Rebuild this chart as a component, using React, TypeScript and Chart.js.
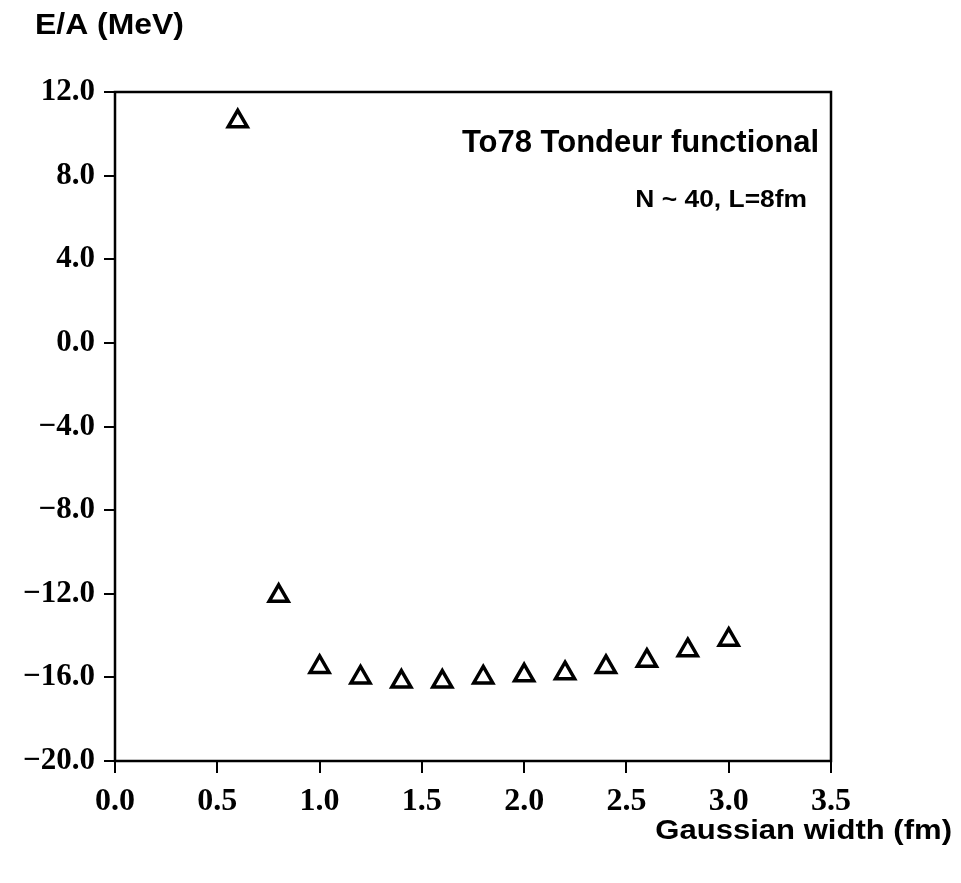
import React, { useEffect, useRef } from "react";
import { Chart, registerables } from "chart.js";

Chart.register(...registerables);

const gaussianWidths = [0.6, 0.8, 1.0, 1.2, 1.4, 1.6, 1.8, 2.0, 2.2, 2.4, 2.6, 2.8, 3.0];
const energiesPerNucleon = [10.6, -12.1, -15.5, -16.0, -16.2, -16.2, -16.0, -15.9, -15.8, -15.5, -15.2, -14.7, -14.2];

const xTickValues = [0.0, 0.5, 1.0, 1.5, 2.0, 2.5, 3.0, 3.5];
const yTickValues = [12.0, 8.0, 4.0, 0.0, -4.0, -8.0, -12.0, -16.0, -20.0];

const yAxisTitle = "E/A (MeV)";
const xAxisTitle = "Gaussian width (fm)";
const functionalLabel = "To78 Tondeur functional";
const parameterLabel = "N ~ 40, L=8fm";

const fmt = (v: number) => (v < 0 ? "\u2212" + Math.abs(v).toFixed(1) : v.toFixed(1));

function drawScaledText(
  ctx: CanvasRenderingContext2D,
  text: string,
  x: number,
  y: number,
  font: string,
  align: CanvasTextAlign,
  sx: number
) {
  ctx.save();
  ctx.font = font;
  ctx.fillStyle = "#000";
  ctx.textBaseline = "middle";
  ctx.textAlign = align;
  ctx.translate(x, y);
  ctx.scale(sx, 1);
  ctx.fillText(text, 0, 0);
  ctx.restore();
}

const framePlugin = {
  id: "framePlugin",
  afterDraw(chart: any) {
    const { ctx, chartArea } = chart;
    ctx.save();
    ctx.strokeStyle = "#000";
    ctx.lineWidth = 2.5;
    ctx.strokeRect(chartArea.left, chartArea.top, chartArea.right - chartArea.left, chartArea.bottom - chartArea.top);
    ctx.restore();
    const sans = "'Liberation Sans', Arial, sans-serif";
    drawScaledText(ctx, yAxisTitle, 35, 26, `bold 29px ${sans}`, "left", 1.1);
    drawScaledText(ctx, xAxisTitle, 952, 832, `bold 27px ${sans}`, "right", 1.15);
    drawScaledText(ctx, functionalLabel, chartArea.right - 12, 143, `bold 31px ${sans}`, "right", 1.0);
    drawScaledText(ctx, parameterLabel, chartArea.right - 24, 200, `bold 24px ${sans}`, "right", 1.1);
  },
};

export default function App() {
  const ref = useRef<HTMLCanvasElement | null>(null);
  useEffect(() => {
    if (!ref.current) return;
    const serif = "'Liberation Serif', 'Times New Roman', serif";
    const chart = new Chart(ref.current, {
      type: "scatter",
      data: {
        datasets: [
          {
            data: gaussianWidths.map((x, i) => ({ x, y: energiesPerNucleon[i] })),
            pointStyle: "triangle",
            pointRadius: 11,
            pointBorderWidth: 3.5,
            borderColor: "#000",
            backgroundColor: "#fff",
            pointBackgroundColor: "#fff",
            pointBorderColor: "#000",
          },
        ],
      },
      options: {
        animation: false,
        responsive: false,
        layout: { padding: { left: 0, top: 92, right: 130, bottom: 0 } },
        plugins: { legend: { display: false }, tooltip: { enabled: false } },
        scales: {
          x: {
            type: "linear",
            min: 0,
            max: 3.5,
            afterFit: (s: any) => {
              s.height = 122;
            },
            afterBuildTicks: (s: any) => {
              s.ticks = xTickValues.map((v) => ({ value: v }));
            },
            border: { display: false },
            grid: { drawOnChartArea: false, color: "#000", lineWidth: 2, tickLength: 12 },
            ticks: {
              color: "#000",
              font: { family: serif, size: 32, weight: "bold" },
              padding: 10,
              maxRotation: 0,
              callback: (v: any) => fmt(Number(v)),
            },
          },
          y: {
            type: "linear",
            min: -20,
            max: 12,
            afterFit: (s: any) => {
              s.width = 115;
            },
            afterBuildTicks: (s: any) => {
              s.ticks = yTickValues.map((v) => ({ value: v }));
            },
            border: { display: false },
            grid: { drawOnChartArea: false, color: "#000", lineWidth: 2, tickLength: 11 },
            ticks: {
              color: "#000",
              font: { family: serif, size: 31, weight: "bold" },
              padding: 9,
              callback: (v: any) => fmt(Number(v)),
            },
          },
        },
      },
      plugins: [framePlugin],
    });
    return () => chart.destroy();
  }, []);
  return (
    <canvas
      ref={ref}
      width={961}
      height={883}
      style={{ position: "absolute", left: 0, top: 0, width: 961, height: 883, display: "block" }}
    />
  );
}
